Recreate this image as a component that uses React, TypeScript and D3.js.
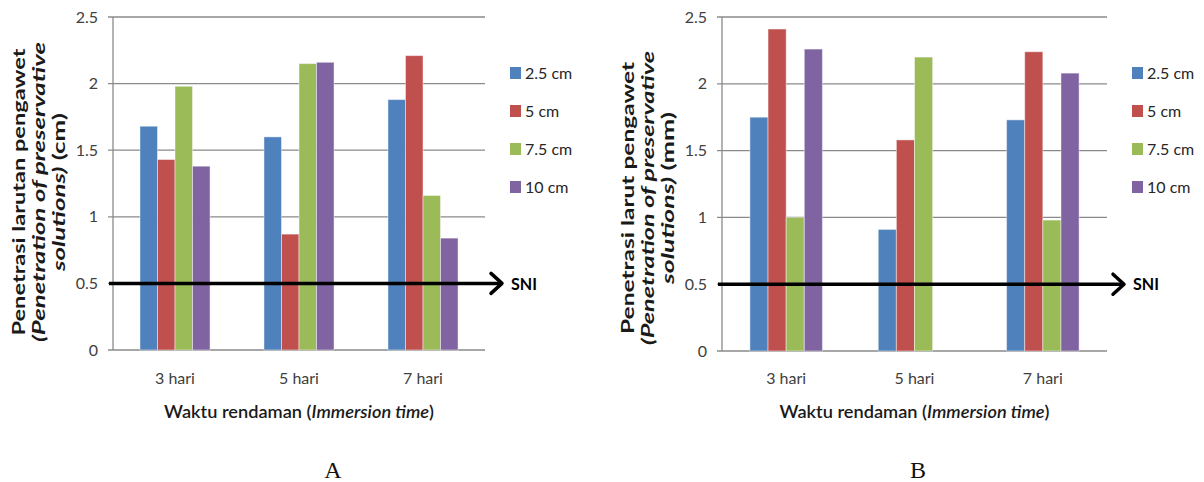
import React from 'react';
import * as d3 from 'd3';

// categories and series
const categories = ['3 hari', '5 hari', '7 hari'];
const seriesNames = ['2.5 cm', '5 cm', '7.5 cm', '10 cm'];
const seriesColors = ['#4F81BD', '#C0504D', '#9BBB59', '#8064A2'];
const yTicks = [0, 0.5, 1, 1.5, 2, 2.5];
const sniValue = 0.5;

// panel A (cm)
const a25 = [1.68, 1.6, 1.88];
const a5 = [1.43, 0.87, 2.21];
const a75 = [1.98, 2.15, 1.16];
const a10 = [1.38, 2.16, 0.84];

// panel B (mm), no 10 cm bar at 5 hari
const b25 = [1.75, 0.91, 1.73];
const b5 = [2.41, 1.58, 2.24];
const b75 = [1.0, 2.2, 0.98];
const b10 = [2.26, null, 2.08];

const FONT = 'Lato, "Open Sans", sans-serif';

type PanelProps = {
  series: (number | null)[][];
  x0: number;
  x1: number;
  yTop: number;
  yBot: number;
  unit: string;
  line1: string;
  titleLens: number[];
  titleY: number;
  letter: string;
  letterX: number;
};

const Panel = ({ series, x0, x1, yTop, yBot, unit, line1, titleLens, titleY, letter, letterX }: PanelProps) => {
  const x = d3.scaleBand<string>().domain(categories).range([x0, x1]).paddingInner(0.435).paddingOuter(0.2175);
  const xs = d3.scaleBand<string>().domain(seriesNames).range([0, x.bandwidth()]);
  const y = d3.scaleLinear().domain([0, 2.5]).range([yBot, yTop]);
  const midX = (x0 + x1) / 2;
  const legX = x1 + 25;
  const sniY = y(sniValue);
  const tip = x1 + 17;

  return (
    <g>
      {/* gridlines + ticks */}
      {yTicks.map(t => (
        <g key={t}>
          <line x1={x0 - 5} x2={x1} y1={y(t)} y2={y(t)} stroke="#8a8a8a" strokeWidth={1.3} />
          <text x={x0 - 15} y={y(t)} dy="0.35em" textAnchor="end" fontSize={16} fill="#404040" fontFamily={FONT}>
            {t}
          </text>
        </g>
      ))}
      <line x1={x0} x2={x0} y1={yTop} y2={yBot} stroke="#8a8a8a" strokeWidth={1.3} />

      {/* bars */}
      {series.map((vals, si) =>
        vals.map((v, ci) =>
          v == null ? null : (
            <rect
              key={si + '-' + ci}
              x={(x(categories[ci]) as number) + (xs(seriesNames[si]) as number)}
              y={y(v)}
              width={xs.bandwidth()}
              height={yBot - y(v)}
              fill={seriesColors[si]}
              stroke="#ffffff"
              strokeOpacity={0.45}
              strokeWidth={1}
            />
          )
        )
      )}

      {/* category labels */}
      {categories.map(c => (
        <text key={c} x={(x(c) as number) + x.bandwidth() / 2} y={384} textAnchor="middle" fontSize={16} fill="#404040" fontFamily={FONT}>
          {c}
        </text>
      ))}

      {/* SNI arrow */}
      <line x1={x0 - 4} x2={tip - 1} y1={sniY} y2={sniY} stroke="#000" strokeWidth={3.5} />
      <polyline
        points={`${tip - 11},${sniY - 10} ${tip},${sniY} ${tip - 11},${sniY + 10}`}
        fill="none"
        stroke="#000"
        strokeWidth={3.5}
        strokeLinejoin="round"
        strokeLinecap="round"
      />
      <text x={tip + 9} y={sniY} dy="0.36em" fontSize={17} fontWeight="bold" fill="#000" fontFamily={FONT} textLength={26} lengthAdjust="spacingAndGlyphs">
        SNI
      </text>

      {/* legend */}
      {seriesNames.map((s, i) => (
        <g key={s} transform={`translate(${legX},${73 + i * 38})`}>
          <rect x={0} y={-6} width={11} height={12} fill={seriesColors[i]} />
          <text x={15} y={0} dy="0.36em" fontSize={16} fill="#262626" fontFamily={FONT}>
            {s}
          </text>
        </g>
      ))}

      {/* axis titles */}
      <text
        x={midX}
        y={418}
        textAnchor="middle"
        fontSize={17}
        fontWeight={600}
        fill="#1a1a1a"
        fontFamily={FONT}
        textLength={270}
        lengthAdjust="spacingAndGlyphs"
      >
        Waktu rendaman (<tspan fontStyle="italic">Immersion time</tspan>)
      </text>
      <g transform={`translate(0,${titleY}) rotate(-90)`} fontFamily={FONT} fontWeight="bold" fontSize={16.5} fill="#1a1a1a" textAnchor="middle">
        <text x={0} y={x0 - 94} dominantBaseline="central" textLength={titleLens[0]} lengthAdjust="spacingAndGlyphs">
          {line1}
        </text>
        <text x={0} y={x0 - 74} dominantBaseline="central" textLength={titleLens[1]} lengthAdjust="spacingAndGlyphs">
          <tspan fontStyle="italic">(Penetration of preservative</tspan>
        </text>
        <text x={0} y={x0 - 54} dominantBaseline="central" textLength={titleLens[2]} lengthAdjust="spacingAndGlyphs">
          <tspan fontStyle="italic">solutions)</tspan> ({unit})
        </text>
      </g>

      {/* panel letter */}
      <text x={letterX} y={478} textAnchor="middle" fontSize={24} fill="#111" fontFamily='"Liberation Serif", "DejaVu Serif", serif'>
        {letter}
      </text>
    </g>
  );
};

export default function App() {
  return (
    <svg width={1204} height={482} style={{ position: 'absolute', left: 0, top: 0, background: '#fff' }}>
      <Panel
        series={[a25, a5, a75, a10]}
        x0={113}
        x1={485}
        yTop={17}
        yBot={350}
        unit="cm"
        line1="Penetrasi larutan pengawet"
        titleLens={[287, 300, 158]}
        titleY={192}
        letter="A"
        letterX={333}
      />
      <Panel
        series={[b25, b5, b75, b10]}
        x0={722}
        x1={1107}
        yTop={17}
        yBot={351}
        unit="mm"
        line1="Penetrasi larut pengawet"
        titleLens={[272, 294, 172]}
        titleY={198}
        letter="B"
        letterX={918}
      />
    </svg>
  );
}
